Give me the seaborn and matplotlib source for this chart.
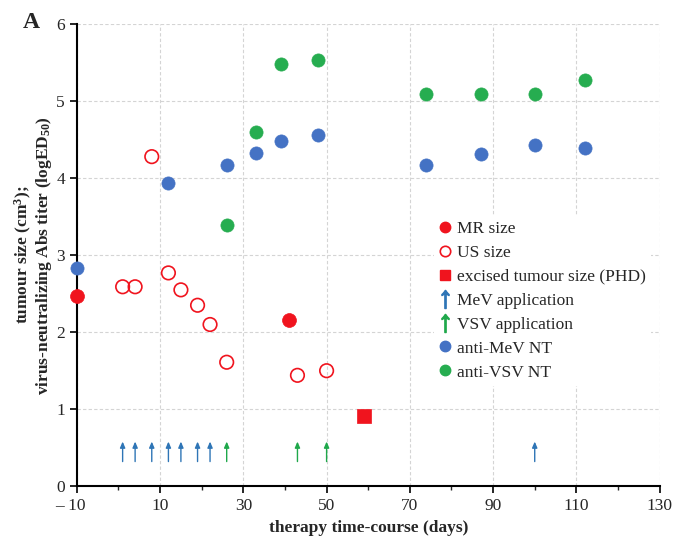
import matplotlib
matplotlib.use("Agg")
import matplotlib.pyplot as plt
from matplotlib.lines import Line2D
import seaborn as sns
import pandas as pd

# data
mr_days = [-10, 41]
mr_size = [2.47, 2.16]

us_days = [1, 4, 8, 12, 15, 19, 22, 26, 43, 50]
us_size = [2.59, 2.59, 4.28, 2.77, 2.55, 2.35, 2.10, 1.61, 1.44, 1.50]

phd_days = [59]
phd_size = [0.91]

mev_nt_days = [-10, 12, 26, 33, 39, 48, 74, 87, 100, 112]
mev_nt = [2.84, 3.94, 4.17, 4.33, 4.48, 4.56, 4.17, 4.32, 4.43, 4.39]

vsv_nt_days = [26, 33, 39, 48, 74, 87, 100, 112]
vsv_nt = [3.39, 4.60, 5.48, 5.54, 5.10, 5.10, 5.10, 5.28]

mev_appl_days = [1, 4, 8, 12, 15, 19, 22, 100]
vsv_appl_days = [26, 43, 50]
arrow_base = 0.32
arrow_tip = 0.58

xticks = [-10, 10, 30, 50, 70, 90, 110, 130]
xtick_labels = ["\u2013 10\u2002 ", "10", "30", "50", "70", "90", "110", "130"]
yticks = [0, 1, 2, 3, 4, 5, 6]

RED = "#F0141E"
BLUE = "#4472C4"
GREEN = "#26AD50"
ARROW_BLUE = "#2E75B6"
ARROW_GREEN = "#1FA84B"

sns.set_style("white")
plt.rcParams["font.family"] = ["Liberation Serif", "DejaVu Serif"]
plt.rcParams["mathtext.fontset"] = "custom"
plt.rcParams["mathtext.rm"] = "Liberation Serif"
plt.rcParams["mathtext.bf"] = "Liberation Serif:bold"

FS = 12.5

fig = plt.figure(figsize=(6.8, 5.5), dpi=100)
ax = fig.add_axes([0.113, 0.116, 0.857, 0.84])

ax.grid(True, color="#d4d4d4", linestyle=(0, (3, 2)), linewidth=0.8)
ax.set_axisbelow(True)

# application arrows
for d in mev_appl_days:
    ax.annotate("", xy=(d, arrow_tip), xytext=(d, arrow_base),
                arrowprops=dict(arrowstyle="-|>,head_length=0.35,head_width=0.15",
                                color=ARROW_BLUE, lw=1.0, shrinkA=0, shrinkB=0))
for d in vsv_appl_days:
    ax.annotate("", xy=(d, arrow_tip), xytext=(d, arrow_base),
                arrowprops=dict(arrowstyle="-|>,head_length=0.35,head_width=0.15",
                                color=ARROW_GREEN, lw=1.0, shrinkA=0, shrinkB=0))

sns.scatterplot(x=mev_nt_days, y=mev_nt, ax=ax, color=BLUE, s=90,
                edgecolor=BLUE, linewidth=0.5, zorder=3, clip_on=False)
sns.scatterplot(x=vsv_nt_days, y=vsv_nt, ax=ax, color=GREEN, s=90,
                edgecolor=GREEN, linewidth=0.5, zorder=3, clip_on=False)
sns.scatterplot(x=us_days, y=us_size, ax=ax, facecolor="none", s=95,
                edgecolor=RED, linewidth=1.2, zorder=3, clip_on=False)
sns.scatterplot(x=mr_days, y=mr_size, ax=ax, color=RED, s=100,
                edgecolor=RED, linewidth=0.5, zorder=4, clip_on=False)
sns.scatterplot(x=phd_days, y=phd_size, ax=ax, color=RED, marker="s", s=100,
                edgecolor=RED, linewidth=0.5, zorder=3)

ax.set_xlim(-10, 130)
ax.set_ylim(0, 6)
ax.set_xticks(xticks)
ax.set_xticklabels(xtick_labels)
ax.set_xticks([0, 20, 40, 60, 80, 100, 120], minor=True)
ax.set_yticks(yticks)
ax.tick_params(axis="both", which="major", direction="out", length=5, width=1.2,
               labelsize=FS, color="black", bottom=True, left=True)
ax.tick_params(axis="x", which="minor", direction="out", length=3, width=1.0,
               bottom=True)

for side in ["top", "right"]:
    ax.spines[side].set_visible(False)
for side in ["left", "bottom"]:
    ax.spines[side].set_color("black")
    ax.spines[side].set_linewidth(1.5)

ax.set_xlabel("therapy time-course (days)", fontsize=FS, fontweight="bold", labelpad=4)
ax.set_ylabel("tumour size (cm$\\mathbf{^3}$);\nvirus-neutralizing Abs titer (logED$\\mathbf{_{50}}$)",
              fontsize=12.5, fontweight="bold", labelpad=2, linespacing=1.0)

fig.text(0.033, 0.96, "A", fontsize=17, fontweight="bold", ha="left", va="center")

handles = [
    Line2D([], [], marker="o", linestyle="", color=RED, markersize=7.5),
    Line2D([], [], marker="o", linestyle="", markerfacecolor="none",
           markeredgecolor=RED, markeredgewidth=1.2, markersize=7.5),
    Line2D([], [], marker="s", linestyle="", color=RED, markersize=7.5),
    Line2D([], [], marker="$\\uparrow$", linestyle="", color=ARROW_BLUE, markersize=13),
    Line2D([], [], marker="$\\uparrow$", linestyle="", color=ARROW_GREEN, markersize=13),
    Line2D([], [], marker="o", linestyle="", color=BLUE, markersize=7.5),
    Line2D([], [], marker="o", linestyle="", color=GREEN, markersize=7.5),
]
labels = ["MR size", "US size", "excised tumour size (PHD)", "MeV application",
          "VSV application", "anti-MeV NT", "anti-VSV NT"]
leg = ax.legend(handles, labels, loc="upper left", bbox_to_anchor=(0.598, 0.605),
                frameon=True, fontsize=FS, handlelength=0.7, handletextpad=0.3,
                labelspacing=0.45, borderpad=0.3)
leg.get_frame().set_facecolor("white")
leg.get_frame().set_edgecolor("none")
leg.get_frame().set_alpha(1)

fig.savefig("out.png", dpi=100)
